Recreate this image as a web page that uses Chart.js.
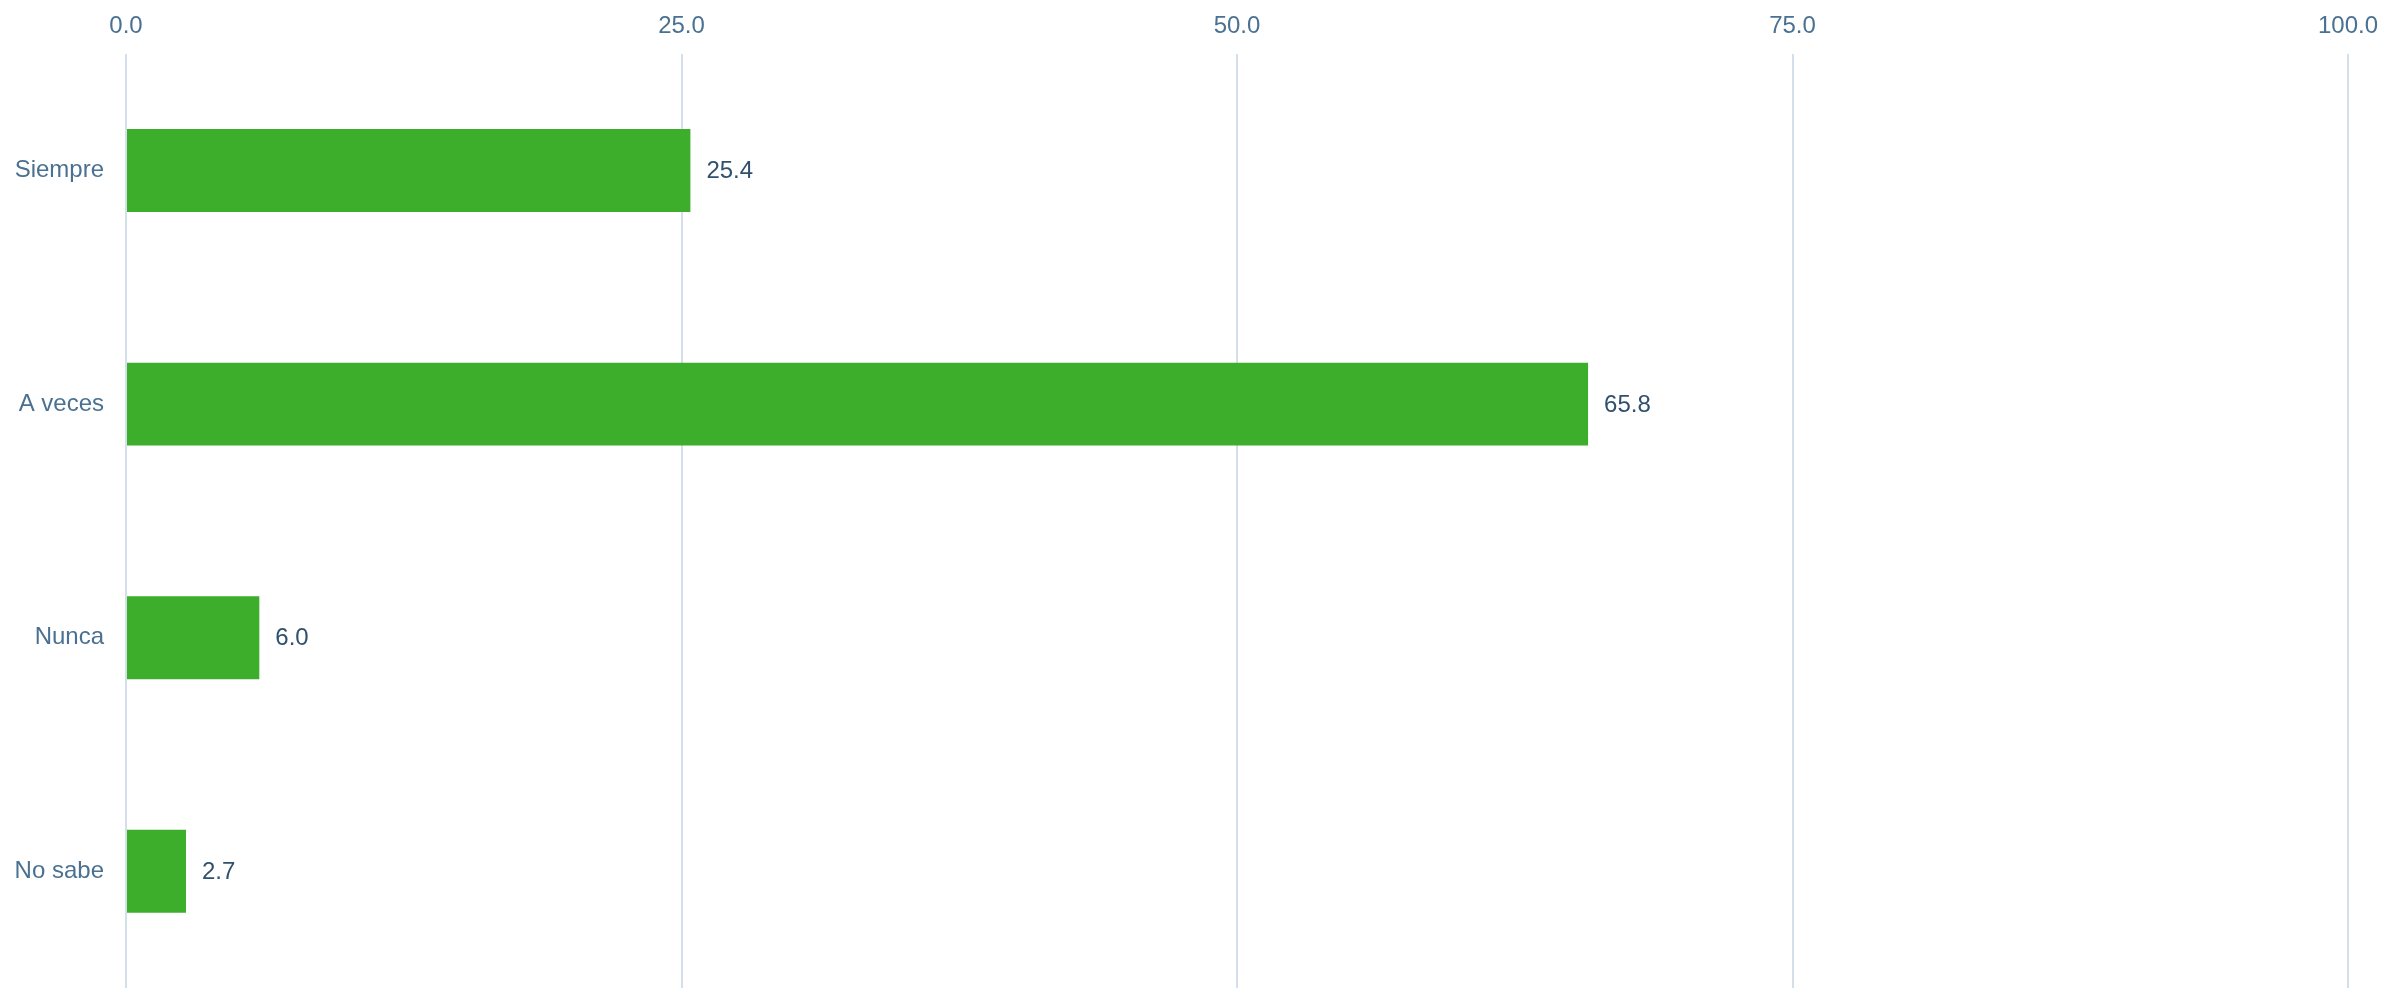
<!DOCTYPE html>
<html>
<head>
<meta charset="utf-8">
<script src="https://cdn.jsdelivr.net/npm/chart.js@4/dist/chart.umd.min.js"></script>
<style>
html,body{margin:0;padding:0;background:#fff;overflow:hidden;}
canvas{display:block;}
</style>
</head>
<body>
<canvas id="c" width="2384" height="988" style="width:2384px;height:988px;"></canvas>
<script>
const categories = ["Siempre", "A veces", "Nunca", "No sabe"];
const values = [25.4, 65.8, 6.0, 2.7];
const xTicks = [0, 25, 50, 75, 100];

const FONT = "'Liberation Sans', Arial, Helvetica, sans-serif";

const valueLabels = {
  id: 'valueLabels',
  afterDatasetsDraw(chart) {
    const ctx = chart.ctx;
    const meta = chart.getDatasetMeta(0);
    ctx.save();
    ctx.font = "24px " + FONT;
    ctx.fillStyle = "#30506e";
    ctx.textAlign = "left";
    ctx.textBaseline = "middle";
    meta.data.forEach((bar, i) => {
      ctx.fillText(values[i].toFixed(1), bar.x + 16, bar.y + 1);
    });
    ctx.restore();
  }
};

new Chart(document.getElementById('c'), {
  type: 'bar',
  data: {
    labels: categories,
    datasets: [{
      data: values,
      backgroundColor: '#3dae2b',
      borderWidth: 0,
      categoryPercentage: 1,
      barPercentage: 0.355
    }]
  },
  options: {
    indexAxis: 'y',
    responsive: false,
    devicePixelRatio: 1,
    animation: false,
    layout: { padding: { top: -1, right: 36, bottom: 0, left: 0 } },
    plugins: { legend: { display: false }, tooltip: { enabled: false } },
    scales: {
      x: {
        position: 'top',
        min: 0, max: 100,
        afterBuildTicks(scale) { scale.ticks = xTicks.map(v => ({ value: v })); },
        afterFit(scale) { scale.paddingLeft = 0; scale.paddingRight = 0; },
        ticks: {
          padding: 13,
          color: '#4a7191',
          font: { family: FONT, size: 24 },
          callback: (v) => Number(v).toFixed(1)
        },
        grid: { color: '#d3dfea', lineWidth: 2, drawTicks: false },
        border: { display: false }
      },
      y: {
        afterFit(scale) { scale.width = 126; scale.paddingTop = 0; scale.paddingBottom = 0; },
        ticks: {
          padding: 22,
          color: '#4a7191',
          font: { family: FONT, size: 24 }
        },
        grid: { display: false, drawTicks: false },
        border: { display: false }
      }
    }
  },
  plugins: [valueLabels]
});
</script>
</body>
</html>
